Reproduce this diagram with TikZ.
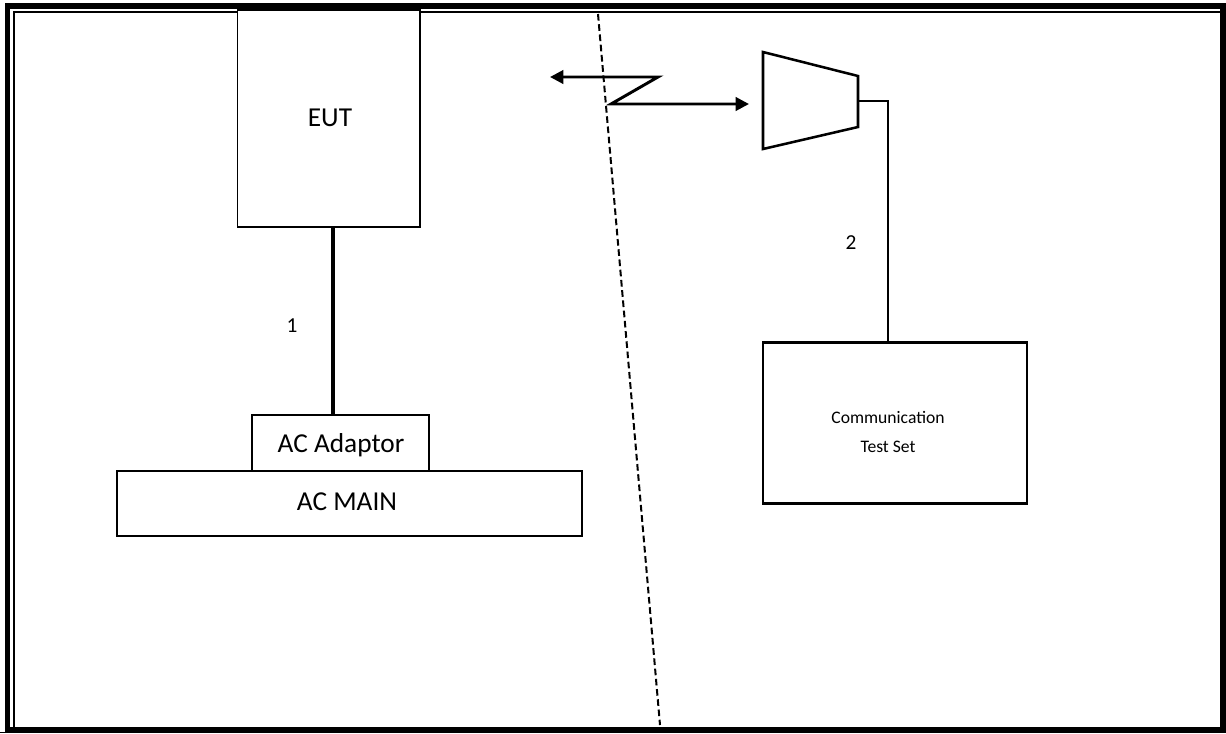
\documentclass[tikz,border=0pt]{standalone}
\usepackage{fontspec}
\setmainfont{Carlito}
\usetikzlibrary{arrows.meta,positioning}

\tikzset{
  unitbox/.style={draw, line width=1.1pt, fill=white, inner sep=0pt,
    font=\fontsize{20.5}{24}\selectfont},
  setbox/.style={draw, line width=2pt, fill=white, inner sep=0pt},
  cable/.style={line width=2.8pt},
  rfcable/.style={line width=1.8pt},
  radio/.style={line width=2.2pt, {Triangle[length=10pt,width=10pt]}-{Triangle[length=10pt,width=10pt]}},
  divider/.style={line width=1.5pt, dash pattern=on 5pt off 2.7pt},
  numlabel/.style={font=\fontsize{16}{18}\selectfont}
}

\begin{document}
\begin{tikzpicture}[x=0.75pt,y=-0.75pt]
    \useasboundingbox (0,0) rectangle (1226,733);

    % Page border
    \draw[line width=3.8pt] (7.5,729.5) -- (7.5,6) -- (1223,6) -- (1223,729.5) -- cycle;
    \draw[line width=1.4pt] (14,729) -- (14,12) -- (1221,12);
    \draw[line width=1.1pt] (0,732.5) -- (1226,732.5);

    % Test room divider
    \draw[divider] (598,14) -- (660,725);

    % Equipment under test side
    \node[unitbox, minimum width=136.9pt, minimum height=162.75pt] (eut) at (328.75,118.5) {};
    \node[font=\fontsize{20.5}{24}\selectfont] (eutlabel) at (330,118) {EUT};
    \node[unitbox, minimum width=132.75pt, minimum height=42pt] (adaptor) at (340.5,443) {};
    \node[font=\fontsize{20.5}{24}\selectfont] (adaptorlabel) at (341,445) {AC Adaptor};
    \node[unitbox, minimum width=348.75pt, minimum height=48.75pt] (acmain) at (349.5,503.5) {};
    \node[font=\fontsize{20.5}{24}\selectfont] (acmainlabel) at (347,502) {AC MAIN};

    \coordinate (eutout) at (333,227);
    \draw[cable] (eutout) -- (eutout |- adaptor.north);
    \node[numlabel] (cablea) at (292,326) {1};

    % Radio link
    \coordinate (wl) at (550,77);
    \coordinate (wz1) at (658,77);
    \coordinate (wz2) at (611,104);
    \coordinate (wr) at (749,104);
    \draw[radio] (wl) -- (wz1) -- (wz2) -- (wr);

    % Antenna
    \draw[line width=1.9pt] (763,52) -- (858,76) -- (858,127) -- (763,149) -- cycle;
    \coordinate (antout) at (858,101);

    % Communication test set
    \node[setbox, minimum width=198pt, minimum height=120.75pt] (cts) at (895,423) {};
    \node[align=center, font=\fontsize{13.2}{21.75}\selectfont] (ctslabel) at (888,432) {Communication\\Test Set};
    \coordinate (ctsin) at (888,342.5);
    \draw[rfcable] (antout) -| (ctsin);
    \node[numlabel] (cableb) at (851,243) {2};
\end{tikzpicture}
\end{document}
